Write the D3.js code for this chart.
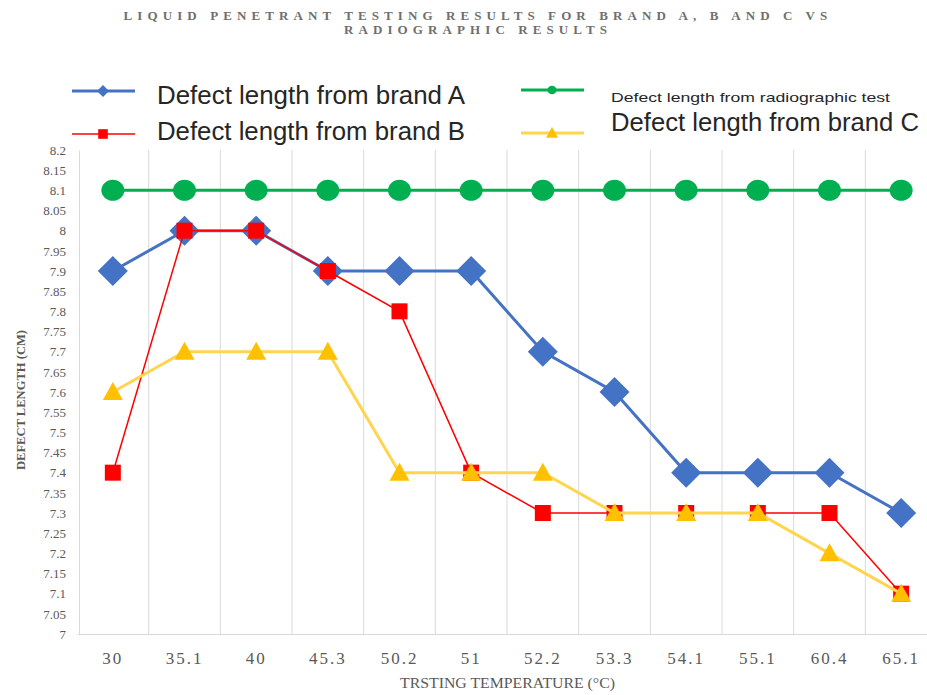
<!DOCTYPE html>
<html>
<head>
<meta charset="utf-8">
<script src="https://d3js.org/d3.v7.min.js"></script>
<style>
  body { margin: 0; background: #fff; }
</style>
</head>
<body>
<svg width="927" height="695" id="mainSvg"></svg>
<script>
// categories (x axis)
const temps = ["30", "35.1", "40", "45.3", "50.2", "51", "52.2", "53.3", "54.1", "55.1", "60.4", "65.1"];
// series values
const brandA = [7.9, 8, 8, 7.9, 7.9, 7.9, 7.7, 7.6, 7.4, 7.4, 7.4, 7.3];
const brandB = [7.4, 8, 8, 7.9, 7.8, 7.4, 7.3, 7.3, 7.3, 7.3, 7.3, 7.1];
const brandC = [7.6, 7.7, 7.7, 7.7, 7.4, 7.4, 7.4, 7.3, 7.3, 7.3, 7.2, 7.1];
const radiographic = [8.1, 8.1, 8.1, 8.1, 8.1, 8.1, 8.1, 8.1, 8.1, 8.1, 8.1, 8.1];
// y tick labels
const yTicks = ["7", "7.05", "7.1", "7.15", "7.2", "7.25", "7.3", "7.35", "7.4", "7.45", "7.5", "7.55", "7.6",
  "7.65", "7.7", "7.75", "7.8", "7.85", "7.9", "7.95", "8", "8.05", "8.1", "8.15", "8.2"];

const svg = d3.select("#mainSvg");
const margin = { left: 77, right: -10, top: 150, bottom: 61 };
const width = 927, height = 695;
const innerW = width - margin.left - margin.right;
const innerH = height - margin.top - margin.bottom;

const x = d3.scaleBand().domain(temps).range([margin.left, margin.left + innerW]);
const y = d3.scaleLinear().domain([7, 8.2]).range([margin.top + innerH, margin.top]);
const cx = d => x(d) + x.bandwidth() / 2;

// title
const title = svg.append("g")
  .attr("font-family", "Liberation Serif, serif")
  .attr("font-weight", "bold")
  .attr("font-size", 13)
  .attr("fill", "#6f6f6f")
  .attr("letter-spacing", 5.1)
  .attr("text-anchor", "middle");
title.append("text").attr("x", 478).attr("y", 20).text("LIQUID PENETRANT TESTING RESULTS FOR BRAND A, B AND C VS");
title.append("text").attr("x", 478).attr("y", 34).text("RADIOGRAPHIC RESULTS");

// vertical grid lines between categories
const grid = svg.append("g");
temps.forEach((t, i) => {
  if (i === 0) return;
  grid.append("line")
    .attr("x1", x(t)).attr("x2", x(t))
    .attr("y1", y(8.2)).attr("y2", y(7))
    .attr("stroke", "#d9d9d9").attr("stroke-width", 1);
});

// axes
const yAxis = d3.axisLeft(y).tickValues(yTicks.map(Number)).tickSize(0).tickPadding(13)
  .tickFormat((d, i) => yTicks[i]);
const yG = svg.append("g").attr("transform", `translate(${margin.left + 2},0)`).call(yAxis);
yG.select(".domain").attr("stroke", "#d9d9d9");
yG.selectAll("text").attr("font-family", "Liberation Serif, serif").attr("font-size", 13).attr("fill", "#595959");

const xAxis = d3.axisBottom(x).tickSize(0).tickPadding(18);
const xG = svg.append("g").attr("transform", `translate(0,${y(7)})`).call(xAxis);
xG.select(".domain").attr("stroke", "#d9d9d9");
xG.selectAll("text").attr("font-family", "Liberation Serif, serif").attr("font-size", 17)
  .attr("fill", "#595959").attr("letter-spacing", 2);

svg.append("text")
  .attr("x", 400).attr("y", 688)
  .attr("font-family", "Liberation Serif, serif")
  .attr("font-size", 14).attr("fill", "#595959")
  .attr("textLength", 215).attr("lengthAdjust", "spacingAndGlyphs")
  .text("TRSTING TEMPERATURE  (°C)");

svg.append("text")
  .attr("transform", "translate(25,400) rotate(-90)")
  .attr("text-anchor", "middle")
  .attr("font-family", "Liberation Serif, serif")
  .attr("font-weight", "bold")
  .attr("font-size", 13).attr("fill", "#595959")
  .attr("textLength", 140).attr("lengthAdjust", "spacingAndGlyphs")
  .text("DEFECT LENGTH (CM)");

// series
const series = [
  { name: "Defect length from radiographic test", values: radiographic, line: "#00b050", fill: "#00b050", lw: 3, shape: "circle" },
  { name: "Defect length from brand A", values: brandA, line: "#4472c4", fill: "#4472c4", lw: 3, shape: "diamond" },
  { name: "Defect length from brand B", values: brandB, line: "#ff0000", fill: "#ff0000", lw: 1.5, shape: "square" },
  { name: "Defect length from brand C", values: brandC, line: "#ffd54f", fill: "#ffc000", lw: 3, shape: "triangle" }
];

function marker(g, shape, fill, px, py, scale) {
  const s = scale || 1;
  if (shape === "circle") {
    g.append("ellipse").attr("cx", px).attr("cy", py).attr("rx", 11.5 * s).attr("ry", 10.5 * s).attr("fill", fill);
  } else if (shape === "diamond") {
    const r = 15 * s;
    g.append("path").attr("d", `M${px - r},${py}L${px},${py - r}L${px + r},${py}L${px},${py + r}Z`).attr("fill", fill);
  } else if (shape === "square") {
    const r = 8 * s;
    g.append("rect").attr("x", px - r).attr("y", py - r).attr("width", 2 * r).attr("height", 2 * r).attr("fill", fill);
  } else {
    const r = 10 * s;
    g.append("path").attr("d", `M${px},${py - r}L${px + r},${py + r * 0.8}L${px - r},${py + r * 0.8}Z`).attr("fill", fill);
  }
}

const line = d3.line().x((d, i) => cx(temps[i])).y(d => y(d));
series.forEach(s => {
  const g = svg.append("g");
  g.append("path").datum(s.values).attr("d", line)
    .attr("fill", "none").attr("stroke", s.line).attr("stroke-width", s.lw);
  s.values.forEach((v, i) => marker(g, s.shape, s.fill, cx(temps[i]), y(v)));
});

// legend
const legend = [
  { s: series[1], lx: 72, ly: 91, tx: 157, ty: 104, size: 25, w: 308, ms: 0.4 },
  { s: series[2], lx: 72, ly: 134, tx: 157, ty: 140, size: 25, w: 308, ms: 0.6 },
  { s: series[0], lx: 521, ly: 90, tx: 611, ty: 102, size: 13, w: 279, ms: 0.4 },
  { s: series[3], lx: 521, ly: 133, tx: 611, ty: 131, size: 25, w: 308, ms: 0.6 }
];
legend.forEach(l => {
  const g = svg.append("g");
  g.append("line").attr("x1", l.lx).attr("x2", l.lx + 63).attr("y1", l.ly).attr("y2", l.ly)
    .attr("stroke", l.s.line).attr("stroke-width", l.s.lw);
  marker(g, l.s.shape, l.s.fill, l.lx + 31, l.ly, l.ms);
  g.append("text").attr("x", l.tx).attr("y", l.ty)
    .attr("font-family", "Liberation Sans, sans-serif")
    .attr("font-size", l.size).attr("fill", "#262626")
    .attr("textLength", l.w).attr("lengthAdjust", "spacingAndGlyphs")
    .text(l.s.name);
});
</script>
</body>
</html>
